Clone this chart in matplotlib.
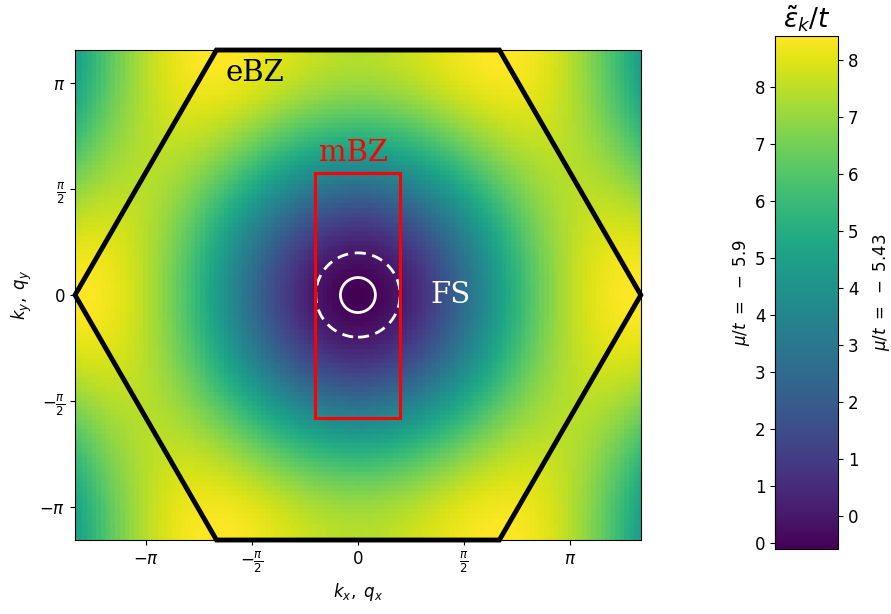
import numpy as np
import matplotlib
matplotlib.use('Agg')
import matplotlib.pyplot as plt
from matplotlib.patches import Polygon, Rectangle

# model parameters (triangular lattice, nearest-neighbour hopping)
t = 1.0
mu_solid = -5.9     # small Fermi surface, left colorbar scale
mu_dashed = -5.43   # larger Fermi surface, right colorbar scale
nx, ny = 121, 105   # grid used for the colour map

# magnetic BZ half widths
mbz_half_x = np.pi / 5
mbz_half_y = np.pi / np.sqrt(3)

k_K = 4 * np.pi / 3              # |K| of the hexagonal BZ
ky_max = 2 * np.pi / np.sqrt(3)  # top edge of the hexagon

tick_vals = [-np.pi, -np.pi / 2, 0, np.pi / 2, np.pi]
tick_labels = [r'$-\pi$', r'$-\frac{\pi}{2}$', '0', r'$\frac{\pi}{2}$', r'$\pi$']


def disp(kx, ky):
    return -2 * t * (np.cos(kx) + 2 * np.cos(kx / 2) * np.cos(np.sqrt(3) * ky / 2))


kx = np.linspace(-k_K, k_K, nx)
ky = np.linspace(-ky_max, ky_max, ny)
KX, KY = np.meshgrid(kx, ky)
E = disp(KX, KY) - mu_dashed

fig = plt.figure(figsize=(8.91, 6.14), dpi=100)
ax = fig.add_axes([0.0842, 0.119, 0.635, 0.801])
cax = fig.add_axes([0.870, 0.106, 0.0707, 0.8355])

pc = ax.pcolormesh(KX, KY, E, cmap='viridis', shading='nearest')

# Fermi surfaces on a finer grid
kf = np.linspace(-1.0, 1.0, 401)
FX, FY = np.meshgrid(kf, kf)
EF = disp(FX, FY) - mu_dashed
ax.contour(FX, FY, EF, levels=[mu_solid - mu_dashed], colors='white',
           linewidths=2, linestyles='solid')
ax.contour(FX, FY, EF, levels=[0.0], colors='white', linewidths=2,
           linestyles=[(0, (4.0, 2.4))])

# extended (hexagonal) BZ
ang = np.deg2rad(np.arange(0, 360, 60))
hexagon = np.column_stack([k_K * np.cos(ang), k_K * np.sin(ang)])
ax.add_patch(Polygon(hexagon, closed=True, fill=False, ec='black', lw=3.5, zorder=3,
                     clip_on=False))

# magnetic BZ
ax.add_patch(Rectangle((-mbz_half_x, -mbz_half_y), 2 * mbz_half_x, 2 * mbz_half_y,
                       fill=False, ec='red', lw=2.2, zorder=3))

ax.text(-1.96, 3.17, 'eBZ', fontsize=21, family='DejaVu Serif',
        color='black', va='baseline', ha='left')
ax.text(-0.07, 1.985, 'mBZ', fontsize=21, family='DejaVu Serif',
        color='red', va='baseline', ha='center')
ax.text(1.08, 0, 'FS', fontsize=21, family='DejaVu Serif', color='white',
        va='center', ha='left')

ax.set_xlim(-k_K, k_K)
ax.set_ylim(-ky_max, ky_max)
ax.set_aspect('equal')
ax.set_xticks(tick_vals)
ax.set_xticklabels(tick_labels)
ax.set_yticks(tick_vals)
ax.set_yticklabels(tick_labels)
ax.tick_params(labelsize=12)
ax.set_xlabel(r'$k_x,\ q_x$', fontsize=12)
ax.set_ylabel(r'$k_y,\ q_y$', fontsize=12)

cb = fig.colorbar(pc, cax=cax)
cb.set_ticks(np.arange(0, 9))
cb.ax.tick_params(labelsize=12)
cb.set_label(r'$\mu/t\ =\ -\ 5.43$', fontsize=12, labelpad=9)
cb.ax.set_title(r'$\tilde{\varepsilon}_k/t$', fontsize=19, pad=6)

shift = mu_dashed - mu_solid
sec = cb.ax.secondary_yaxis('left', functions=(lambda v: v + shift, lambda v: v - shift))
sec.set_ticks(np.arange(0, 9))
sec.tick_params(labelsize=12)
sec.set_ylabel(r'$\mu/t\ =\ -\ 5.9$', fontsize=12, labelpad=2)

fig.savefig('out.png', dpi=100)
